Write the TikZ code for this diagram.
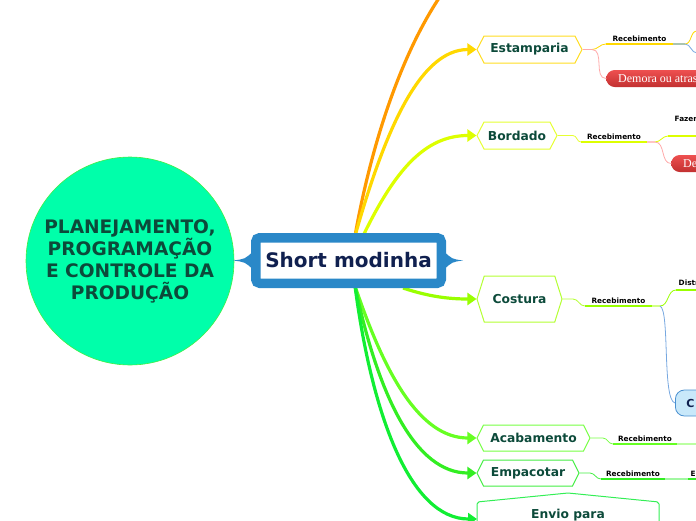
\documentclass[tikz,border=0pt]{standalone}
\usepackage{fontspec}
\setmainfont{DejaVu Sans}
\newfontfamily\pillfont{Liberation Serif}
\usetikzlibrary{arrows.meta,positioning,shapes.geometric,shapes.symbols}
\definecolor{MapTeal}{HTML}{00FFAA}
\definecolor{MapRim}{HTML}{44EE44}
\definecolor{MapInk}{HTML}{0C4A3A}
\definecolor{HubBlue}{HTML}{2A88C8}
\definecolor{HubInk}{HTML}{10204F}
\definecolor{OrangeBr}{HTML}{FF9900}
\definecolor{EstBr}{HTML}{FFD800}
\definecolor{BorBr}{HTML}{DDFF00}
\definecolor{CosBr}{HTML}{99FF00}
\definecolor{AcaBr}{HTML}{66FF22}
\definecolor{EmpBr}{HTML}{33EE22}
\definecolor{EnvBr}{HTML}{11EE33}
\definecolor{EstRim}{HTML}{FFDD22}
\definecolor{BorRim}{HTML}{E6FF33}
\definecolor{CosRim}{HTML}{B4FF33}
\definecolor{AcaRim}{HTML}{77FF44}
\definecolor{EmpRim}{HTML}{44EE44}
\definecolor{EnvRim}{HTML}{33EE55}
\definecolor{PinkTw}{HTML}{FFAAAA}
\definecolor{BlueTw}{HTML}{77A8E0}
\definecolor{GreyTw}{HTML}{AAC4B0}
\definecolor{AlertTop}{HTML}{EE5050}
\definecolor{AlertBot}{HTML}{C23030}
\definecolor{PillBlue}{HTML}{C8E8FA}
\definecolor{PillRim}{HTML}{4A90D0}

\begin{document}
\begin{tikzpicture}[x=1pt, y=-1pt,
  topic/.style={shape=signal, signal to=west and east, fill=white, line width=1pt, inner sep=0pt, font=\bfseries\fontsize{12.3}{14}\selectfont, text=MapInk},
  branch/.style={line width=3.2pt, -{Triangle[length=9pt,width=12pt]}},
  twig/.style={line width=0.8pt},
  uline/.style={line width=1.8pt},
  sublabel/.style={font=\bfseries\fontsize{7.3}{8}\selectfont, inner sep=2.5pt, anchor=south},
  alert/.style={anchor=west, rounded corners=8.5pt, top color=AlertTop, bottom color=AlertBot, minimum height=17pt, inner xsep=12pt, inner ysep=0pt, text=white, font=\pillfont\fontsize{12}{14}\selectfont}
]
\useasboundingbox (0,0) rectangle (696,520);
\clip (0,0) rectangle (696,520);

% left circle
\node[circle, fill=MapTeal, draw=MapRim, line width=0.6pt, minimum size=208pt, inner sep=0pt, align=center, text=MapInk, font=\bfseries\fontsize{18.6}{22}\selectfont] (ppcp) at (130,261) {PLANEJAMENTO,\\PROGRAMAÇÃO\\E CONTROLE DA\\PRODUÇÃO};

% topics
\node[topic, draw=EstRim, signal pointer angle=125, minimum width=105pt, minimum height=27pt] (estamp) at (529.5,49.5) {Estamparia};
\node[topic, draw=BorRim, signal pointer angle=125, minimum width=80pt, minimum height=27pt] (bord) at (517,135.5) {Bordado};
\node[topic, draw=CosRim, signal pointer angle=145, minimum width=85pt, minimum height=46pt] (cost) at (519.5,299) {Costura};
\node[topic, draw=AcaRim, signal pointer angle=127, minimum width=113pt, minimum height=26pt] (acab) at (533.5,438) {Acabamento};
\node[topic, draw=EmpRim, signal pointer angle=127, minimum width=102pt, minimum height=26pt] (empa) at (528,473) {Empacotar};
\node[font=\bfseries\fontsize{12.3}{14}\selectfont, text=MapInk, minimum width=183pt] (envio) at (568,515) {Envio para};
\draw[EnvRim, line width=1pt, rounded corners=2pt] (477,530) -- (477,502) -- (568,493) -- (659,502) -- (659,530);

% branches
\coordinate (hubup) at (355,236);
\coordinate (hubupb) at (363,236);
\coordinate (hubdn) at (355,286);
\coordinate (hubcos) at (403,288);
\coordinate (offtop) at (452,-20);
\coordinate (envin) at (477,519);
\draw[line width=3.2pt, OrangeBr] (hubup) .. controls (372,140) and (405,40) .. (offtop);
\draw[branch, EstBr] (hubup) .. controls (385,130) and (420,49.5) .. (estamp.west);
\draw[branch, BorBr] (hubupb) .. controls (395,170) and (425,135.5) .. (bord.west);
\draw[branch, CosBr] (hubcos) .. controls (430,297) and (450,299) .. (cost.west);
\draw[branch, AcaBr] (hubdn) .. controls (385,375) and (420,438) .. (acab.west);
\draw[branch, EmpBr] (hubdn) .. controls (378,395) and (415,473) .. (empa.west);
\draw[branch, EnvBr] (hubdn) .. controls (372,415) and (410,519) .. (envin);

% central topic
\node[draw=HubBlue, line width=9.5pt, fill=white, rounded corners=4pt, minimum width=185.5pt, minimum height=45.5pt, inner sep=0pt, text=HubInk, font=\bfseries\fontsize{20}{22}\selectfont] (hub) at (348.5,260.5) {Short modinha};
\fill[HubBlue] ([xshift=2pt,yshift=9pt]hub.west) .. controls ([xshift=-6pt,yshift=1.5pt]hub.west) .. ([xshift=-18pt]hub.west) .. controls ([xshift=-6pt,yshift=-1.5pt]hub.west) .. ([xshift=2pt,yshift=-9pt]hub.west) -- cycle;
\fill[HubBlue] ([xshift=-2pt,yshift=9pt]hub.east) .. controls ([xshift=6pt,yshift=1.5pt]hub.east) .. ([xshift=17pt]hub.east) .. controls ([xshift=6pt,yshift=-1.5pt]hub.east) .. ([xshift=-2pt,yshift=-9pt]hub.east) -- cycle;

% Estamparia
\coordinate (ej) at (592,49.5);
\coordinate (es) at (685,44);
\coordinate (eup) at (720,31);
\coordinate (edn) at (720,53);
\node[sublabel, minimum width=67pt] (recE) at (639.5,44) {Recebimento};
\node[alert] (demE) at (606,78.5) {Demora ou atraso};
\draw[twig, PinkTw] (estamp.east) -- (ej);
\draw[twig, EstBr] (ej) to[out=0,in=180] (recE.south west);
\draw[uline, EstBr] (recE.south west) -- (recE.south east);
\draw[uline, GreyTw] (recE.south east) -- (es);
\draw[twig, EstBr] (es) to[out=0,in=180] (697,31) -- (eup);
\draw[twig, BlueTw] (es) to[out=0,in=180] (697,53) -- (edn);
\draw[twig, PinkTw] (ej) to[out=0,in=180] (demE.west);

% Bordado
\coordinate (bj) at (573,135.5);
\coordinate (bs) at (655,142);
\coordinate (bup) at (668,136);
\coordinate (bend) at (720,136);
\node[sublabel, minimum width=66pt] (recB) at (614,142) {Recebimento};
\node[sublabel, anchor=west] (fazB) at (672,119) {Fazer};
\node[alert] (demB) at (671,163.5) {Demora};
\draw[twig, BorRim] (bord.east) -- (bj) to[out=0,in=180] (recB.south west);
\draw[uline, BorBr] (recB.south west) -- (recB.south east);
\draw[uline, PinkTw!70] (recB.south east) -- (bs);
\draw[twig, BorBr] (bs) to[out=0,in=180] (bup);
\draw[uline, BorBr] (bup) -- (bend);
\draw[twig, PinkTw] (bs) to[out=0,in=180] (demB.west);

% Costura
\coordinate (cj) at (573,299);
\coordinate (cs) at (660,306);
\coordinate (cend) at (720,290);
\node[sublabel, minimum width=67pt] (recC) at (618.5,306) {Recebimento};
\node[sublabel, anchor=south west, xshift=3pt] (distC) at (673,290) {Distribuição};
\node[anchor=west, draw=PillRim, fill=PillBlue, line width=0.8pt, rounded corners=9pt, minimum height=26pt, inner xsep=11pt, text=HubInk, font=\bfseries\fontsize{11}{13}\selectfont] (corC) at (675,403) {C};
\draw[twig, CosRim] (cost.east) -- (cj) to[out=0,in=180] (recC.south west);
\draw[uline, CosBr] (recC.south west) -- (recC.south east);
\draw[uline, CosRim!60] (recC.south east) -- (cs);
\draw[twig, CosBr] (cs) to[out=0,in=180] (distC.south west);
\draw[uline, CosBr] (distC.south west) -- (cend);
\draw[twig, BlueTw] (cs) .. controls (670,310) and (662,400) .. (corC.west);

% Acabamento
\coordinate (aj) at (603,438);
\coordinate (aend) at (720,444);
\node[sublabel, minimum width=64pt] (recA) at (645,444) {Recebimento};
\draw[twig, AcaRim] (acab.east) -- (aj) to[out=0,in=180] (recA.south west);
\draw[uline, AcaBr] (recA.south west) -- (recA.south east);
\draw[uline, AcaRim!50] (recA.south east) -- (aend);

% Empacotar
\coordinate (pj) at (590,473);
\coordinate (pend) at (720,479);
\node[sublabel, minimum width=64pt] (recP) at (633,479) {Recebimento};
\node[sublabel, anchor=south west] (embP) at (688,479) {E};
\draw[twig, EmpRim] (empa.east) -- (pj) to[out=0,in=180] (recP.south west);
\draw[uline, EmpBr] (recP.south west) -- (recP.south east);
\draw[uline, EmpRim!50] (recP.south east) -- (embP.south west);
\draw[uline, EmpBr] (embP.south west) -- (pend);
\end{tikzpicture}
\end{document}
